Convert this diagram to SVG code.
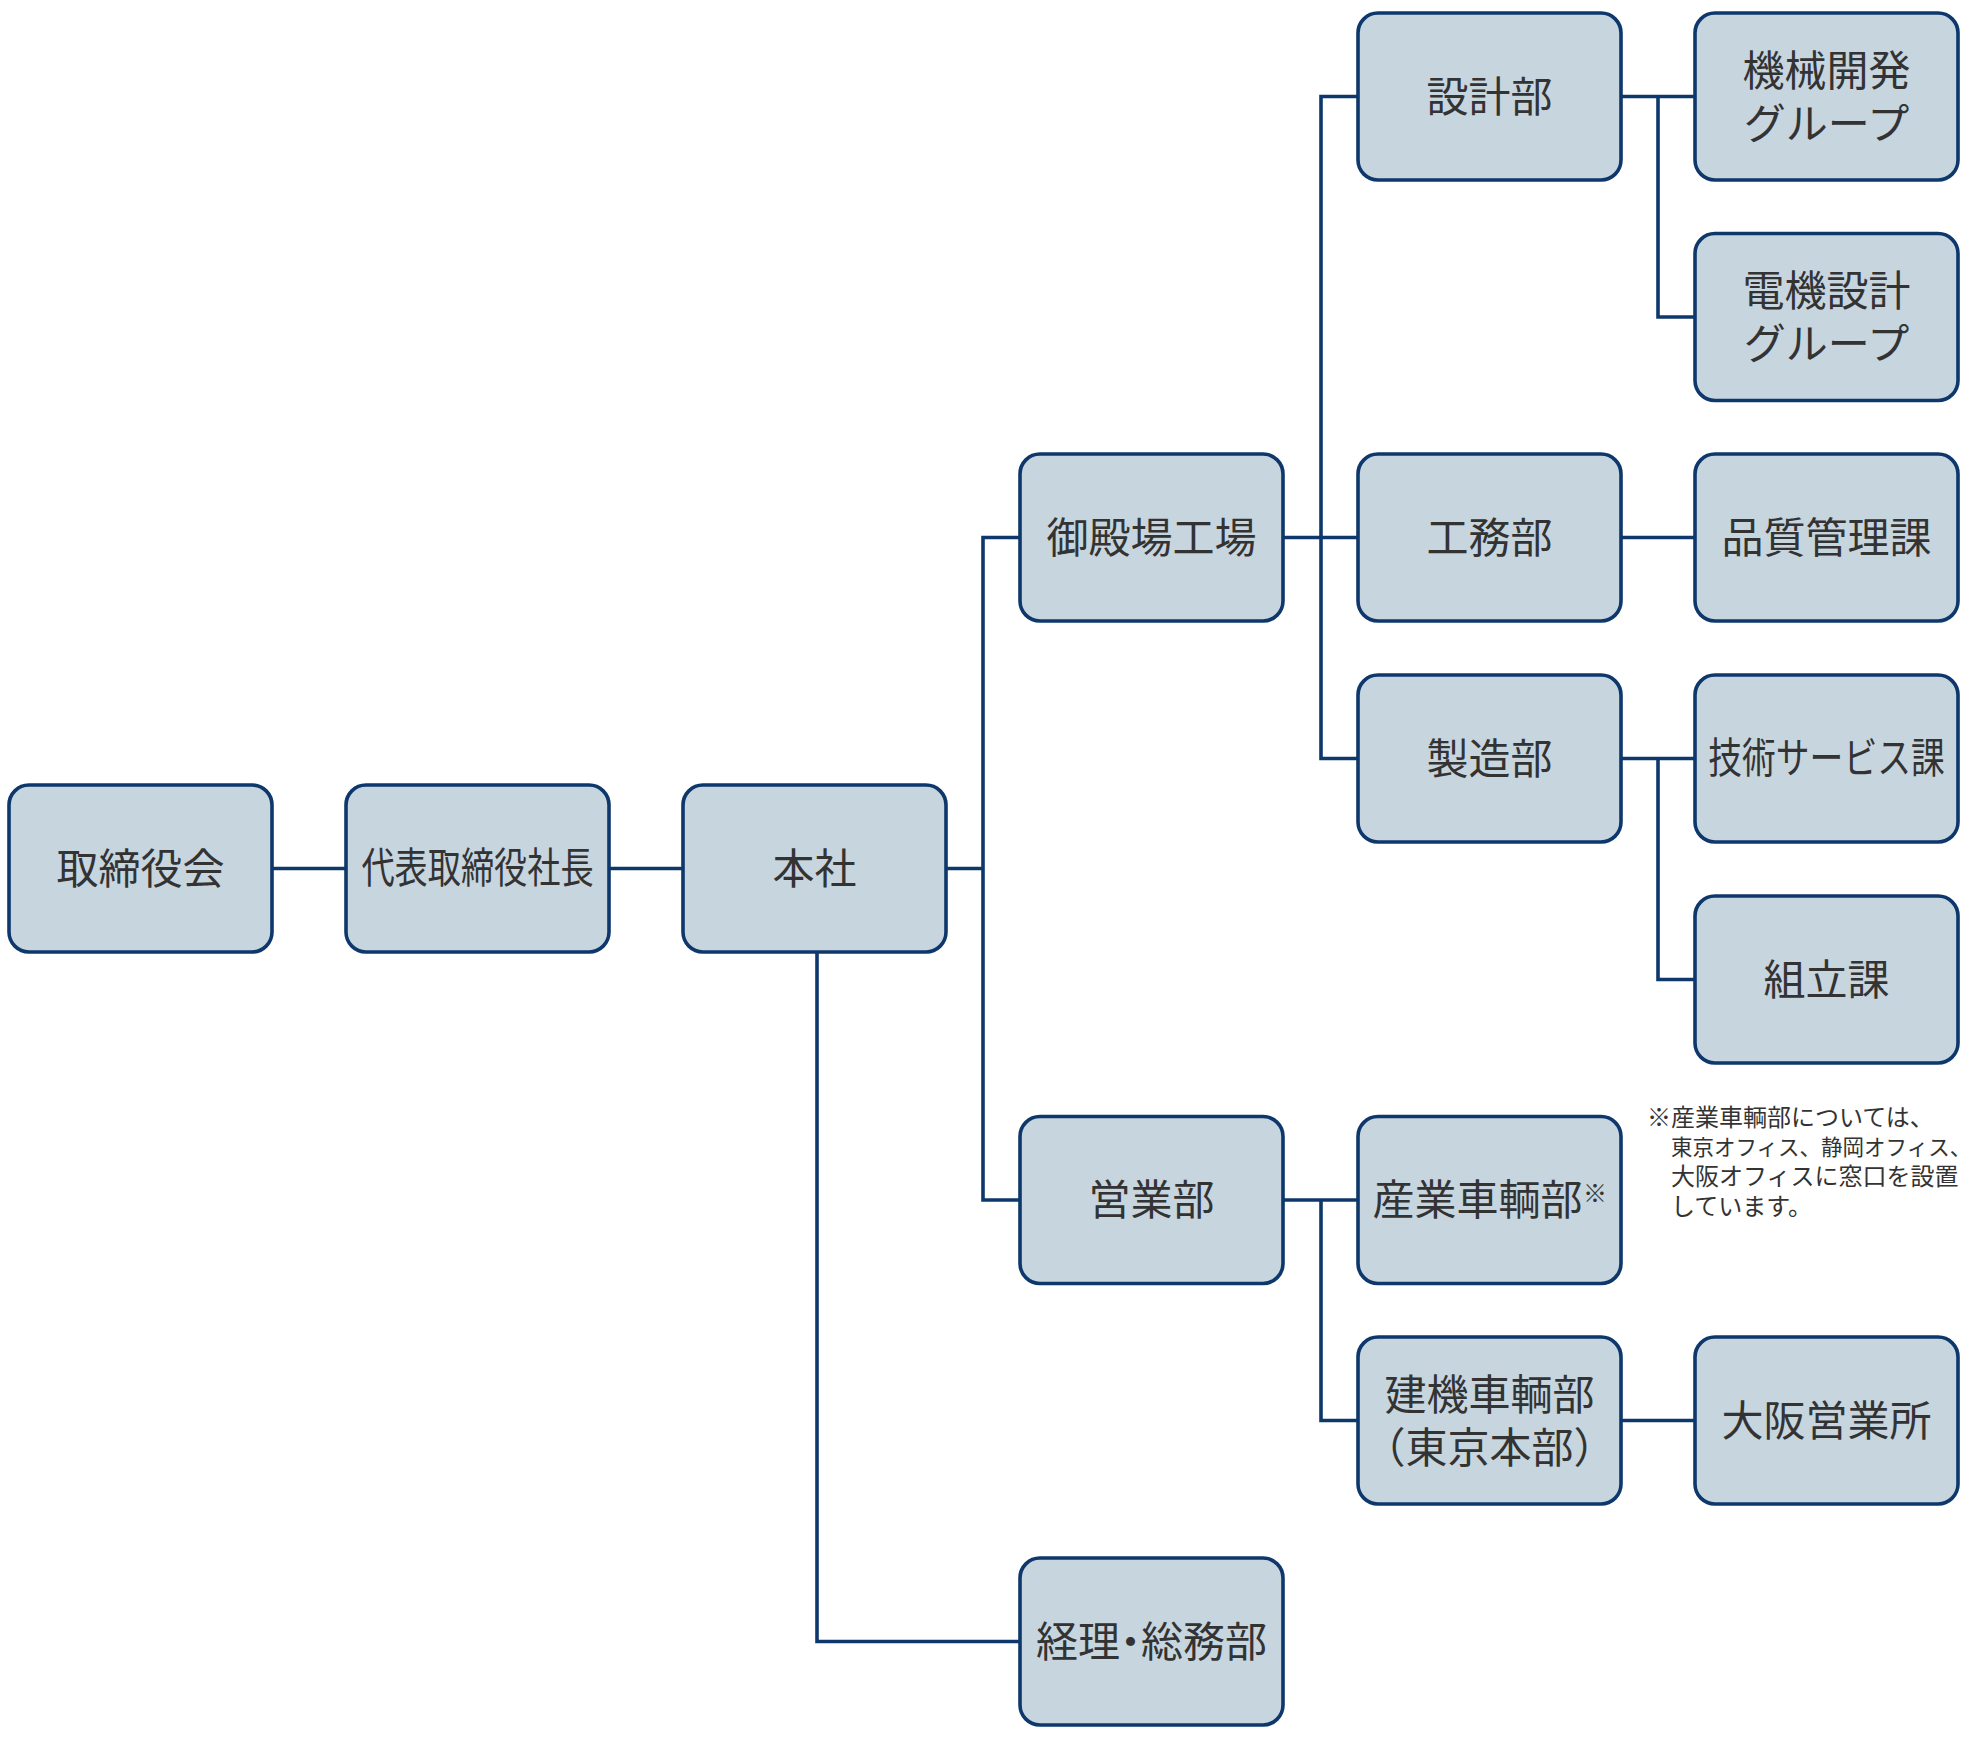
<svg xmlns="http://www.w3.org/2000/svg" width="1972" height="1738" viewBox="0 0 1972 1738">
<style>
.box{fill:#c7d5df;stroke:#0e386c;stroke-width:3.6}
.t{font-family:"Noto Sans CJK JP","Noto Sans",sans-serif;font-size:42px;fill:#333333;text-anchor:middle;dominant-baseline:central}
.n{font-family:"Noto Sans CJK JP","Noto Sans",sans-serif;font-size:24px;fill:#333333}
.c{fill:none;stroke:#0e386c;stroke-width:3.6}
.p{font-feature-settings:"palt" 1}
</style>
<rect width="1972" height="1738" fill="#ffffff"/>
<g id="connectors" class="c">
<path d="M272 868.5 H346"/>
<path d="M609 868.5 H683"/>
<path d="M946 868.5 H983"/>
<path d="M1020 537.5 H983 V1200 H1020"/>
<path d="M817 952 V1641.5 H1020"/>
<path d="M1283 537.5 H1358"/>
<path d="M1358 96.5 H1321 V758.5 H1358"/>
<path d="M1621 96.5 H1695"/>
<path d="M1658 96.5 V317 H1695"/>
<path d="M1621 537.5 H1695"/>
<path d="M1621 758.5 H1695"/>
<path d="M1658 758.5 V979.5 H1695"/>
<path d="M1283 1200 H1358"/>
<path d="M1321 1200 V1420.5 H1358"/>
<path d="M1621 1420.5 H1695"/>
</g>
<g id="n-torishimariyakukai"><rect class="box" x="9" y="785" width="263" height="167" rx="20"/><text class="t" x="140.5" y="865">取締役会</text></g>
<g id="n-shacho"><rect class="box" x="346" y="785" width="263" height="167" rx="20"/><text class="t" transform="translate(477.5 865) scale(0.79 1)">代表取締役社長</text></g>
<g id="n-honsha"><rect class="box" x="683" y="785" width="263" height="167" rx="20"/><text class="t" x="814.5" y="865">本社</text></g>
<g id="n-gotemba"><rect class="box" x="1020" y="454" width="263" height="167" rx="20"/><text class="t" x="1151.5" y="534">御殿場工場</text></g>
<g id="n-eigyo"><rect class="box" x="1020" y="1116.5" width="263" height="167" rx="20"/><text class="t" x="1151.5" y="1196.5">営業部</text></g>
<g id="n-keiri"><rect class="box" x="1020" y="1558" width="263" height="167" rx="20"/><text class="t p" x="1151.5" y="1638">経理・総務部</text></g>
<g id="n-sekkei"><rect class="box" x="1358" y="13" width="263" height="167" rx="20"/><text class="t" x="1489.5" y="93">設計部</text></g>
<g id="n-komu"><rect class="box" x="1358" y="454" width="263" height="167" rx="20"/><text class="t" x="1489.5" y="534">工務部</text></g>
<g id="n-seizo"><rect class="box" x="1358" y="675" width="263" height="167" rx="20"/><text class="t" x="1489.5" y="755">製造部</text></g>
<g id="n-sangyo"><rect class="box" x="1358" y="1116.5" width="263" height="167" rx="20"/><text class="t" x="1477.5" y="1196.5">産業車輌部</text><text class="n" x="1583" y="1191" dominant-baseline="central">※</text></g>
<g id="n-kenki"><rect class="box" x="1358" y="1337" width="263" height="167" rx="20"/><text class="t" x="1489.5" y="1391">建機車輌部</text><text class="t" x="1489.5" y="1444">（東京本部）</text></g>
<g id="n-kikai"><rect class="box" x="1695" y="13" width="263" height="167" rx="20"/><text class="t" x="1826.5" y="67">機械開発</text><text class="t" x="1826.5" y="120">グループ</text></g>
<g id="n-denki"><rect class="box" x="1695" y="233.5" width="263" height="167" rx="20"/><text class="t" x="1826.5" y="287.5">電機設計</text><text class="t" x="1826.5" y="340.5">グループ</text></g>
<g id="n-hinshitsu"><rect class="box" x="1695" y="454" width="263" height="167" rx="20"/><text class="t" x="1826.5" y="534">品質管理課</text></g>
<g id="n-gijutsu"><rect class="box" x="1695" y="675" width="263" height="167" rx="20"/><text class="t" transform="translate(1826.5 755) scale(0.805 1)">技術サービス課</text></g>
<g id="n-kumitate"><rect class="box" x="1695" y="896" width="263" height="167" rx="20"/><text class="t" x="1826.5" y="976">組立課</text></g>
<g id="n-osaka"><rect class="box" x="1695" y="1337" width="263" height="167" rx="20"/><text class="t" x="1826.5" y="1417">大阪営業所</text></g>
<g id="note">
<text class="n" dominant-baseline="central"><tspan x="1647" y="1115">※産業車輌部については、</tspan><tspan x="1671" y="1144.5" font-size="21.5">東京オフィス、静岡オフィス、</tspan><tspan x="1671" y="1174">大阪オフィスに窓口を設置</tspan><tspan x="1671" y="1203.5">しています。</tspan></text>
</g>
</svg>
